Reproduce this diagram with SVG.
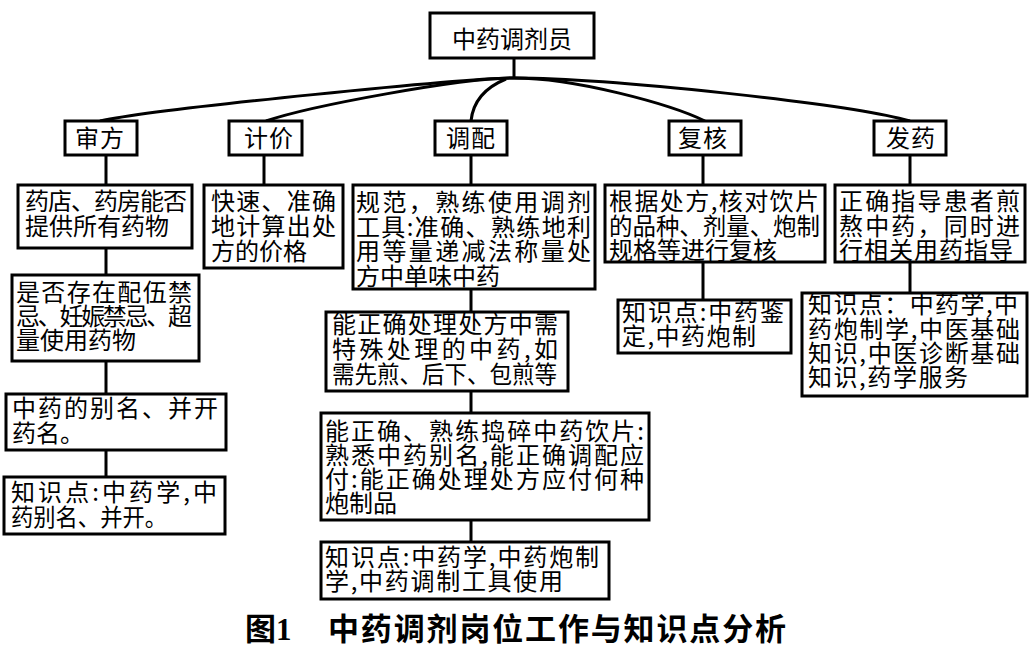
<svg xmlns="http://www.w3.org/2000/svg" width="1036" height="649" viewBox="0 0 1036 649">
<style>
.box{fill:#fff;stroke:#000;stroke-width:3}
.t{font-family:"Noto Sans CJK SC","Liberation Sans",sans-serif;font-size:24px;fill:#000}
.c{text-anchor:middle}
.ln{fill:none;stroke:#000;stroke-width:3}
.ttl{font-family:"Noto Sans CJK SC","Liberation Sans",sans-serif;font-size:31px;font-weight:bold;fill:#000}
</style>
<rect width="1036" height="649" fill="#fff"/>
<g id="connectors">
<path class="ln" d="M514,58 V78"/>
<path class="ln" d="M514,78 C470,78 160,108 100,121"/>
<path class="ln" d="M514,78 C460,78 310,106 266,121"/>
<path class="ln" d="M506,79 Q474,92 471,121"/>
<path class="ln" d="M514,78 C575,78 670,104 705,121"/>
<path class="ln" d="M514,78 C610,78 850,104 910,121"/>
<path class="ln" d="M106,155 V185 M106,248 V275 M106,361 V394 M106,450 V477"/>
<path class="ln" d="M264,155 V185"/>
<path class="ln" d="M471,155 V185 M471,289 V312 M471,391 V413 M471,520 V542"/>
<path class="ln" d="M703,155 V185 M703,262 V300"/>
<path class="ln" d="M910,155 V185 M910,262 V293"/>
</g>
<g id="root">
<rect class="box" x="430" y="13" width="164" height="45"/>
<text class="t c" x="512" y="48">中药调剂员</text>
</g>
<g id="shenfang">
<rect class="box" x="65" y="121" width="72" height="34"/>
<text class="t c" x="100" y="147" letter-spacing="1">审方</text>
</g>
<g id="jijia">
<rect class="box" x="229" y="121" width="73" height="34"/>
<text class="t c" x="269" y="147" letter-spacing="1">计价</text>
</g>
<g id="tiaopei">
<rect class="box" x="435" y="121" width="72" height="34"/>
<text class="t c" x="471" y="147" letter-spacing="1">调配</text>
</g>
<g id="fuhe">
<rect class="box" x="669" y="121" width="72" height="34"/>
<text class="t c" x="703" y="147" letter-spacing="1">复核</text>
</g>
<g id="fayao">
<rect class="box" x="874" y="121" width="72" height="34"/>
<text class="t c" x="911" y="147" letter-spacing="1">发药</text>
</g>
<g id="shenfang-1">
<rect class="box" x="18" y="185" width="174" height="63"/>
<text class="t" x="25" y="210" textLength="162" lengthAdjust="spacing">药店、药房能否</text>
<text class="t" x="25" y="235">提供所有药物</text>
</g>
<g id="shenfang-2">
<rect class="box" x="12" y="275" width="187" height="86"/>
<text class="t" x="16" y="301" textLength="176" lengthAdjust="spacing">是否存在配伍禁</text>
<text class="t" x="16" y="325" textLength="176" lengthAdjust="spacing">忌、妊娠禁忌、超</text>
<text class="t" x="16" y="349">量使用药物</text>
</g>
<g id="shenfang-3">
<rect class="box" x="6" y="394" width="220" height="56"/>
<text class="t" x="12" y="417" textLength="206" lengthAdjust="spacing">中药的别名、并开</text>
<text class="t" x="12" y="442">药名。</text>
</g>
<g id="shenfang-4">
<rect class="box" x="4" y="477" width="221" height="57"/>
<text class="t" x="11" y="501" textLength="206" lengthAdjust="spacing">知识点:中药学,中</text>
<text class="t" x="11" y="526" textLength="156" lengthAdjust="spacingAndGlyphs">药别名、并开。</text>
</g>
<g id="jijia-1">
<rect class="box" x="204" y="185" width="139" height="83"/>
<text class="t" x="211" y="210" textLength="125" lengthAdjust="spacing">快速、准确</text>
<text class="t" x="211" y="235" textLength="125" lengthAdjust="spacing">地计算出处</text>
<text class="t" x="211" y="260">方的价格</text>
</g>
<g id="tiaopei-1">
<rect class="box" x="353" y="185" width="242" height="104"/>
<text class="t" x="356" y="211" textLength="235" lengthAdjust="spacing">规范，熟练使用调剂</text>
<text class="t" x="356" y="236" textLength="235" lengthAdjust="spacing">工具:准确、熟练地利</text>
<text class="t" x="356" y="260" textLength="235" lengthAdjust="spacing">用等量递减法称量处</text>
<text class="t" x="356" y="285">方中单味中药</text>
</g>
<g id="tiaopei-2">
<rect class="box" x="326" y="312" width="242" height="79"/>
<text class="t" x="332" y="333" textLength="226" lengthAdjust="spacing">能正确处理处方中需</text>
<text class="t" x="332" y="358" textLength="226" lengthAdjust="spacing">特殊处理的中药,如</text>
<text class="t" x="332" y="383" textLength="225" lengthAdjust="spacingAndGlyphs">需先煎、后下、包煎等</text>
</g>
<g id="tiaopei-3">
<rect class="box" x="321" y="413" width="328" height="107"/>
<text class="t" x="325" y="440" textLength="319" lengthAdjust="spacing">能正确、熟练捣碎中药饮片:</text>
<text class="t" x="325" y="464" textLength="319" lengthAdjust="spacing">熟悉中药别名,能正确调配应</text>
<text class="t" x="325" y="488" textLength="319" lengthAdjust="spacing">付:能正确处理处方应付何种</text>
<text class="t" x="325" y="512">炮制品</text>
</g>
<g id="tiaopei-4">
<rect class="box" x="321" y="542" width="288" height="57"/>
<text class="t" x="325" y="566" textLength="274" lengthAdjust="spacing">知识点:中药学,中药炮制</text>
<text class="t" x="325" y="590" textLength="238" lengthAdjust="spacing">学,中药调制工具使用</text>
</g>
<g id="fuhe-1">
<rect class="box" x="605" y="185" width="220" height="77"/>
<text class="t" x="609" y="210" textLength="210" lengthAdjust="spacing">根据处方,核对饮片</text>
<text class="t" x="609" y="235" textLength="211" lengthAdjust="spacingAndGlyphs">的品种、剂量、炮制</text>
<text class="t" x="609" y="259">规格等进行复核</text>
</g>
<g id="fuhe-2">
<rect class="box" x="618" y="300" width="173" height="53"/>
<text class="t" x="622" y="321" textLength="162" lengthAdjust="spacing">知识点:中药鉴</text>
<text class="t" x="622" y="345" textLength="134" lengthAdjust="spacing">定,中药炮制</text>
</g>
<g id="fayao-1">
<rect class="box" x="835" y="185" width="190" height="77"/>
<text class="t" x="839" y="210" textLength="181" lengthAdjust="spacing">正确指导患者煎</text>
<text class="t" x="839" y="235" textLength="181" lengthAdjust="spacing">熬中药，同时进</text>
<text class="t" x="839" y="259" textLength="174" lengthAdjust="spacing">行相关用药指导</text>
</g>
<g id="fayao-2">
<rect class="box" x="802" y="293" width="225" height="103"/>
<text class="t" x="808" y="313" textLength="210" lengthAdjust="spacing">知识点：中药学,中</text>
<text class="t" x="808" y="338" textLength="212" lengthAdjust="spacing">药炮制学,中医基础</text>
<text class="t" x="808" y="362" textLength="212" lengthAdjust="spacing">知识,中医诊断基础</text>
<text class="t" x="808" y="386" textLength="160" lengthAdjust="spacing">知识,药学服务</text>
</g>
<g id="caption">
<text class="ttl" x="245" y="640">图<tspan font-family="Liberation Serif,serif">1</tspan></text>
<text class="ttl" x="328" y="640" textLength="458" lengthAdjust="spacing">中药调剂岗位工作与知识点分析</text>
</g>
</svg>
